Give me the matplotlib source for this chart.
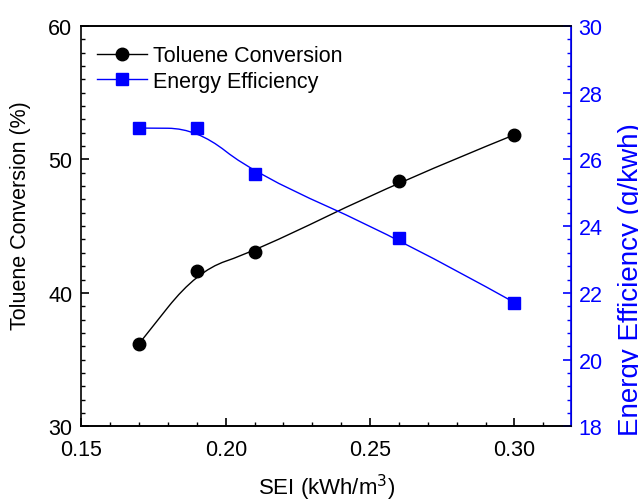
import matplotlib
matplotlib.use("Agg")
import matplotlib.pyplot as plt
import numpy as np
from matplotlib.path import Path
from matplotlib.patches import PathPatch
from matplotlib.ticker import MultipleLocator, FormatStrFormatter
from matplotlib.lines import Line2D

plt.rcParams['font.family'] = ['Liberation Sans', 'DejaVu Sans']

# data
sei = [0.17, 0.19, 0.21, 0.26, 0.30]
toluene_conv = [36.2, 41.65, 43.1, 48.35, 51.85]
energy_eff = [26.94, 26.93, 25.56, 23.64, 21.71]

BLUE = '#0000ff'


def bspline_path(xs, ys):
    # quadratic B-spline style path, data points used as control points
    pts = np.column_stack([xs, ys])
    verts = [pts[0], (pts[0] + pts[1]) / 2]
    codes = [Path.MOVETO, Path.LINETO]
    for i in range(1, len(pts) - 1):
        end = pts[i + 1] if i == len(pts) - 2 else (pts[i] + pts[i + 1]) / 2
        verts += [pts[i], end]
        codes += [Path.CURVE3, Path.CURVE3]
    return Path(verts, codes)


fig = plt.figure(figsize=(6.38, 5.02), dpi=100)
ax = fig.add_axes([0.1276, 0.1488, 0.767, 0.7974])
ax2 = ax.twinx()

ax.add_patch(PathPatch(bspline_path(sei, toluene_conv), fill=False,
                       edgecolor='black', linewidth=1.0))
ax.plot(sei, toluene_conv, linestyle='none', marker='o', markersize=9,
        color='black')

ax2.add_patch(PathPatch(bspline_path(sei, energy_eff), fill=False,
                        edgecolor=BLUE, linewidth=1.0))
ax2.plot(sei, energy_eff, linestyle='none', marker='s', markersize=8.5,
         color=BLUE)

ax.set_xlim(0.15, 0.3195)
ax.set_ylim(30, 60)
ax2.set_ylim(18, 30)

ax.xaxis.set_major_locator(MultipleLocator(0.05))
ax.xaxis.set_minor_locator(MultipleLocator(0.01))
ax.yaxis.set_major_locator(MultipleLocator(10))
ax.yaxis.set_minor_locator(MultipleLocator(1))
ax2.yaxis.set_major_locator(MultipleLocator(2))
ax2.yaxis.set_minor_locator(MultipleLocator(0.4))
ax.xaxis.set_major_formatter(FormatStrFormatter('%.2f'))

ax.tick_params(axis='both', which='major', direction='in', length=6,
               width=1.2, labelsize=15.5)
ax.tick_params(axis='both', which='minor', direction='in', length=3,
               width=1.0)
ax.tick_params(axis='y', pad=6.5)
ax.tick_params(axis='x', pad=9.5)
ax.tick_params(axis='x', which='both', top=False)
ax2.tick_params(axis='y', which='major', direction='in', length=6,
                width=1.2, labelsize=15.5, colors=BLUE, pad=5.5)
ax2.tick_params(axis='y', which='minor', direction='in', length=3,
                width=1.0, colors=BLUE)

for s in ['left', 'bottom', 'top']:
    ax.spines[s].set_linewidth(1.2)
ax2.spines['right'].set_color(BLUE)
ax2.spines['right'].set_linewidth(1.2)
ax2.spines['left'].set_visible(False)
ax2.spines['top'].set_linewidth(1.2)
ax2.spines['bottom'].set_linewidth(1.2)

ax.set_xlabel('SEI (kWh/m$^3$)', fontsize=16)
ax.xaxis.set_label_coords(0.502, -0.114)
ax.set_ylabel('Toluene Conversion (%)', fontsize=15.5)
ax.yaxis.set_label_coords(-0.103, 0.529)
ax2.set_ylabel('Energy Efficiency (g/kwh)', fontsize=20, color=BLUE)
ax2.yaxis.set_label_coords(1.097, 0.37)

handles = [
    Line2D([], [], color='black', marker='o', markersize=9, linewidth=1.0),
    Line2D([], [], color=BLUE, marker='s', markersize=8.5, linewidth=1.0),
]
ax.legend(handles, ['Toluene Conversion', 'Energy Efficiency'],
          loc='upper left', frameon=False, fontsize=15.5,
          handlelength=2.3, handletextpad=0.28, labelspacing=0.2,
          borderpad=0, borderaxespad=0, bbox_to_anchor=(0.032, 0.952))

fig.savefig('out.png', dpi=100)
